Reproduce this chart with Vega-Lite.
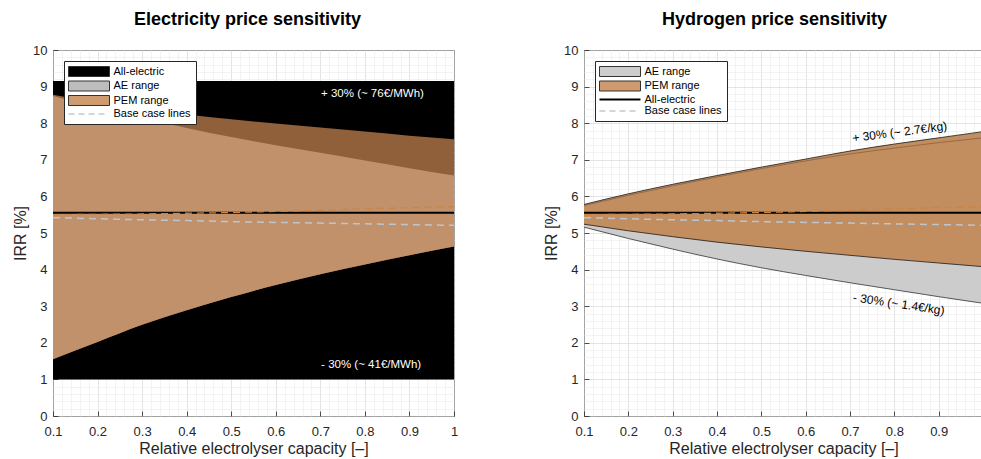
{
  "$schema": "https://vega.github.io/schema/vega-lite/v6.json",
  "padding": {"left": 11, "top": 10, "right": 0, "bottom": 3},
  "background": "#ffffff",
  "config": {
    "font": "Liberation Sans Narrow, Liberation Sans, Arial, sans-serif",
    "view": {"stroke": "#262626", "strokeWidth": 1},
    "axis": {
      "domain": false,
      "labelFont": "Liberation Sans Narrow, Liberation Sans, Arial, sans-serif",
      "labelFontSize": 13,
      "labelColor": "#262626",
      "labelFlush": false,
      "labelOverlap": false,
      "tickColor": "#262626",
      "tickSize": -5,
      "tickWidth": 0.8,
      "titleFont": "Liberation Sans Narrow, Liberation Sans, Arial, sans-serif",
      "titleFontSize": 16,
      "titleFontWeight": "normal",
      "titleColor": "#262626",
      "gridColor": "#d9d9d9",
      "gridWidth": 0.7
    },
    "axisBottom": {"labelPadding": 14, "titleY": 37, "titleBaseline": "alphabetic"},
    "axisLeft": {"labelPadding": 11, "titleX": -25, "titleBaseline": "bottom"},
    "title": {
      "font": "Liberation Sans Narrow, Liberation Sans, Arial, sans-serif",
      "fontSize": 18,
      "fontWeight": "bold",
      "color": "#000000",
      "anchor": "middle",
      "frame": "group",
      "offset": 15,
      "baseline": "alphabetic"
    },
    "legend": {
      "orient": "top-left",
      "offset": 11,
      "padding": 5,
      "fillColor": "#ffffff",
      "strokeColor": "#262626",
      "title": null,
      "symbolSize": 100,
      "symbolStrokeWidth": 1,
      "symbolOpacity": 1,
      "symbolOffset": 14.5,
      "labelOffset": 19,
      "rowPadding": -0.5,
      "labelFont": "Liberation Sans Narrow, Liberation Sans, Arial, sans-serif",
      "labelFontSize": 11,
      "labelColor": "#000000",
      "labelLimit": 0
    }
  },
  "datasets": {
    "electricity": [
      {"x": 0.1, "elec_lo": 1.0, "elec_hi": 9.15, "pem_lo": 1.55, "pem_hi": 8.78, "ae_lo": 1.55, "ae_hi": 8.74, "elec": 5.55, "ae_base": 5.42, "pem_base": 5.5},
      {"x": 0.2, "elec_lo": 1.0, "elec_hi": 9.15, "pem_lo": 2.02, "pem_hi": 8.57, "ae_lo": 2.02, "ae_hi": 8.43, "elec": 5.55, "ae_base": 5.39, "pem_base": 5.51},
      {"x": 0.3, "elec_lo": 1.0, "elec_hi": 9.15, "pem_lo": 2.49, "pem_hi": 8.39, "ae_lo": 2.49, "ae_hi": 8.14, "elec": 5.55, "ae_base": 5.36, "pem_base": 5.52},
      {"x": 0.4, "elec_lo": 1.0, "elec_hi": 9.15, "pem_lo": 2.89, "pem_hi": 8.24, "ae_lo": 2.89, "ae_hi": 7.87, "elec": 5.55, "ae_base": 5.34, "pem_base": 5.54},
      {"x": 0.5, "elec_lo": 1.0, "elec_hi": 9.15, "pem_lo": 3.25, "pem_hi": 8.11, "ae_lo": 3.25, "ae_hi": 7.62, "elec": 5.55, "ae_base": 5.31, "pem_base": 5.56},
      {"x": 0.6, "elec_lo": 1.0, "elec_hi": 9.15, "pem_lo": 3.58, "pem_hi": 7.99, "ae_lo": 3.58, "ae_hi": 7.4, "elec": 5.55, "ae_base": 5.29, "pem_base": 5.59},
      {"x": 0.7, "elec_lo": 1.0, "elec_hi": 9.15, "pem_lo": 3.87, "pem_hi": 7.88, "ae_lo": 3.87, "ae_hi": 7.19, "elec": 5.55, "ae_base": 5.27, "pem_base": 5.62},
      {"x": 0.8, "elec_lo": 1.0, "elec_hi": 9.15, "pem_lo": 4.14, "pem_hi": 7.77, "ae_lo": 4.14, "ae_hi": 6.98, "elec": 5.55, "ae_base": 5.25, "pem_base": 5.66},
      {"x": 0.9, "elec_lo": 1.0, "elec_hi": 9.15, "pem_lo": 4.39, "pem_hi": 7.66, "ae_lo": 4.39, "ae_hi": 6.77, "elec": 5.55, "ae_base": 5.23, "pem_base": 5.69},
      {"x": 1.0, "elec_lo": 1.0, "elec_hi": 9.15, "pem_lo": 4.63, "pem_hi": 7.56, "ae_lo": 4.63, "ae_hi": 6.57, "elec": 5.55, "ae_base": 5.21, "pem_base": 5.72}
    ],
    "hydrogen": [
      {"x": 0.1, "ae_lo": 5.16, "ae_hi": 5.75, "pem_lo": 5.24, "pem_hi": 5.78, "elec": 5.55, "ae_base": 5.42, "pem_base": 5.5},
      {"x": 0.2, "ae_lo": 4.85, "ae_hi": 6.03, "pem_lo": 5.06, "pem_hi": 6.07, "elec": 5.55, "ae_base": 5.39, "pem_base": 5.51},
      {"x": 0.3, "ae_lo": 4.56, "ae_hi": 6.29, "pem_lo": 4.9, "pem_hi": 6.33, "elec": 5.55, "ae_base": 5.36, "pem_base": 5.52},
      {"x": 0.4, "ae_lo": 4.29, "ae_hi": 6.53, "pem_lo": 4.75, "pem_hi": 6.57, "elec": 5.55, "ae_base": 5.34, "pem_base": 5.54},
      {"x": 0.5, "ae_lo": 4.05, "ae_hi": 6.76, "pem_lo": 4.62, "pem_hi": 6.8, "elec": 5.55, "ae_base": 5.31, "pem_base": 5.56},
      {"x": 0.6, "ae_lo": 3.84, "ae_hi": 6.97, "pem_lo": 4.5, "pem_hi": 7.02, "elec": 5.55, "ae_base": 5.29, "pem_base": 5.59},
      {"x": 0.7, "ae_lo": 3.64, "ae_hi": 7.16, "pem_lo": 4.39, "pem_hi": 7.24, "elec": 5.55, "ae_base": 5.27, "pem_base": 5.62},
      {"x": 0.8, "ae_lo": 3.45, "ae_hi": 7.32, "pem_lo": 4.28, "pem_hi": 7.43, "elec": 5.55, "ae_base": 5.25, "pem_base": 5.66},
      {"x": 0.9, "ae_lo": 3.26, "ae_hi": 7.47, "pem_lo": 4.18, "pem_hi": 7.6, "elec": 5.55, "ae_base": 5.23, "pem_base": 5.69},
      {"x": 1.0, "ae_lo": 3.08, "ae_hi": 7.6, "pem_lo": 4.08, "pem_hi": 7.77, "elec": 5.55, "ae_base": 5.21, "pem_base": 5.72}
    ],
    "legend_elec": [
      {"series": "All-electric"},
      {"series": "AE range"},
      {"series": "PEM range"},
      {"series": "Base case lines"}
    ],
    "legend_h2": [
      {"series": "AE range"},
      {"series": "PEM range"},
      {"series": "All-electric"},
      {"series": "Base case lines"}
    ],
    "notes_elec": [
      {"x": 0.817, "y": 8.79, "label": "+ 30% (~ 76€/MWh)"},
      {"x": 0.814, "y": 1.39, "label": "- 30% (~ 41€/MWh)"}
    ],
    "notes_h2": [
      {"x": 0.812, "y": 7.76, "label": "+ 30% (~ 2.7€/kg)", "side": "high"},
      {"x": 0.81, "y": 3.06, "label": "- 30% (~ 1.4€/kg)", "side": "low"}
    ]
  },
  "spacing": 83,
  "resolve": {"scale": {"fill": "independent"}, "legend": {"fill": "independent"}},
  "hconcat": [
    {
      "width": 401,
      "height": 366,
      "title": {"text": "Electricity price sensitivity", "dx": -6},
      "data": {"name": "electricity"},
      "layer": [
        {
          "mark": {"type": "area", "interpolate": "linear", "color": "#000000"},
          "encoding": {
            "x": {
              "field": "x", "type": "quantitative",
              "scale": {"domain": [0.1, 1], "nice": false, "zero": false},
              "axis": {"orient": "bottom", "values": [0.1, 0.2, 0.3, 0.4, 0.5, 0.6, 0.7, 0.8, 0.9, 1], "format": "~g", "grid": true, "title": "Relative electrolyser capacity [–]"}
            },
            "y": {
              "field": "elec_hi", "type": "quantitative",
              "scale": {"domain": [0, 10], "nice": false, "zero": false},
              "axis": {"orient": "left", "values": [0, 1, 2, 3, 4, 5, 6, 7, 8, 9, 10], "format": "d", "grid": true, "title": "IRR [%]"}
            },
            "y2": {"field": "elec_lo"}
          }
        },
        {
          "mark": {"type": "area", "interpolate": "monotone", "color": "#8f6039"},
          "encoding": {
            "x": {
              "field": "x", "type": "quantitative",
              "axis": {"orient": "top", "values": [0.12, 0.14, 0.16, 0.18, 0.22, 0.24, 0.26, 0.28, 0.32, 0.34, 0.36, 0.38, 0.42, 0.44, 0.46, 0.48, 0.52, 0.54, 0.56, 0.58, 0.62, 0.64, 0.66, 0.68, 0.72, 0.74, 0.76, 0.78, 0.82, 0.84, 0.86, 0.88, 0.92, 0.94, 0.96, 0.98], "grid": true, "gridColor": "#ebebeb", "gridWidth": 0.6, "ticks": false, "labels": false, "title": null}
            },
            "y": {
              "field": "pem_hi", "type": "quantitative",
              "axis": {"orient": "right", "values": [0.2, 0.4, 0.6, 0.8, 1.2, 1.4, 1.6, 1.8, 2.2, 2.4, 2.6, 2.8, 3.2, 3.4, 3.6, 3.8, 4.2, 4.4, 4.6, 4.8, 5.2, 5.4, 5.6, 5.8, 6.2, 6.4, 6.6, 6.8, 7.2, 7.4, 7.6, 7.8, 8.2, 8.4, 8.6, 8.8, 9.2, 9.4, 9.6, 9.8], "grid": true, "gridColor": "#ebebeb", "gridWidth": 0.6, "ticks": false, "labels": false, "title": null}
            },
            "y2": {"field": "pem_lo"}
          }
        },
        {
          "mark": {"type": "area", "interpolate": "monotone", "color": "#c0916a"},
          "encoding": {
            "x": {"field": "x", "type": "quantitative", "axis": null},
            "y": {"field": "ae_hi", "type": "quantitative", "axis": null},
            "y2": {"field": "ae_lo"}
          }
        },
        {
          "mark": {"type": "line", "color": "#bcc6d0", "strokeWidth": 1.5, "strokeDash": [7, 5], "interpolate": "monotone"},
          "encoding": {
            "x": {"field": "x", "type": "quantitative", "axis": null},
            "y": {"field": "ae_base", "type": "quantitative", "axis": null}
          }
        },
        {
          "mark": {"type": "line", "color": "#000000", "strokeWidth": 2},
          "encoding": {
            "x": {"field": "x", "type": "quantitative", "axis": null},
            "y": {"field": "elec", "type": "quantitative", "axis": null}
          }
        },
        {
          "mark": {"type": "line", "color": "#cc8444", "strokeWidth": 1.3, "strokeDash": [7, 5], "interpolate": "monotone"},
          "encoding": {
            "x": {"field": "x", "type": "quantitative", "axis": null},
            "y": {"field": "pem_base", "type": "quantitative", "axis": null}
          }
        },
        {
          "data": {"name": "notes_elec"},
          "mark": {"type": "text", "color": "#ffffff", "fontSize": 11.5, "align": "center", "baseline": "middle"},
          "encoding": {
            "x": {"field": "x", "type": "quantitative", "axis": null},
            "y": {"field": "y", "type": "quantitative", "axis": null},
            "text": {"field": "label"}
          }
        },
        {
          "data": {"name": "legend_elec"},
          "mark": {"type": "rect", "opacity": 0},
          "encoding": {
            "fill": {
              "field": "series", "type": "nominal",
              "scale": {"domain": ["All-electric", "AE range", "PEM range", "Base case lines"], "range": ["#000000", "#bdbdbd", "#cf9c70", "#c8c8c8"]},
              "legend": {
                "symbolType": {"expr": "datum.value === 'Base case lines' ? 'M-4.1,-0.15H-2.9V0.15H-4.1Z M-2.1,-0.15H-0.9V0.15H-2.1Z M-0.1,-0.15H1.1V0.15H-0.1Z M1.9,-0.15H3.1V0.15H1.9Z' : 'M-4.1,-1H4.1V1H-4.1Z'"},
                "symbolStrokeColor": {"expr": "datum.value === 'Base case lines' ? 'transparent' : '#333333'"}
              }
            }
          }
        }
      ]
    },
    {
      "width": 399,
      "height": 366,
      "title": {"text": "Hydrogen price sensitivity", "dx": -9},
      "data": {"name": "hydrogen"},
      "layer": [
        {
          "mark": {"type": "area", "interpolate": "monotone", "color": "#cccccc"},
          "encoding": {
            "x": {
              "field": "x", "type": "quantitative",
              "scale": {"domain": [0.1, 1], "nice": false, "zero": false},
              "axis": {"orient": "bottom", "values": [0.1, 0.2, 0.3, 0.4, 0.5, 0.6, 0.7, 0.8, 0.9], "format": "~g", "grid": true, "title": "Relative electrolyser capacity [–]"}
            },
            "y": {
              "field": "ae_hi", "type": "quantitative",
              "scale": {"domain": [0, 10], "nice": false, "zero": false},
              "axis": {"orient": "left", "values": [0, 1, 2, 3, 4, 5, 6, 7, 8, 9, 10], "format": "d", "grid": true, "title": "IRR [%]"}
            },
            "y2": {"field": "ae_lo"}
          }
        },
        {
          "mark": {"type": "area", "interpolate": "monotone", "color": "#c28d5f"},
          "encoding": {
            "x": {
              "field": "x", "type": "quantitative",
              "axis": {"orient": "top", "values": [0.12, 0.14, 0.16, 0.18, 0.22, 0.24, 0.26, 0.28, 0.32, 0.34, 0.36, 0.38, 0.42, 0.44, 0.46, 0.48, 0.52, 0.54, 0.56, 0.58, 0.62, 0.64, 0.66, 0.68, 0.72, 0.74, 0.76, 0.78, 0.82, 0.84, 0.86, 0.88, 0.92, 0.94, 0.96, 0.98], "grid": true, "gridColor": "#ebebeb", "gridWidth": 0.6, "ticks": false, "labels": false, "title": null}
            },
            "y": {
              "field": "pem_hi", "type": "quantitative",
              "axis": {"orient": "right", "values": [0.2, 0.4, 0.6, 0.8, 1.2, 1.4, 1.6, 1.8, 2.2, 2.4, 2.6, 2.8, 3.2, 3.4, 3.6, 3.8, 4.2, 4.4, 4.6, 4.8, 5.2, 5.4, 5.6, 5.8, 6.2, 6.4, 6.6, 6.8, 7.2, 7.4, 7.6, 7.8, 8.2, 8.4, 8.6, 8.8, 9.2, 9.4, 9.6, 9.8], "grid": true, "gridColor": "#ebebeb", "gridWidth": 0.6, "ticks": false, "labels": false, "title": null}
            },
            "y2": {"field": "pem_lo"}
          }
        },
        {
          "mark": {"type": "line", "color": "#8a6240", "strokeWidth": 0.8, "interpolate": "monotone"},
          "encoding": {
            "x": {"field": "x", "type": "quantitative", "axis": null},
            "y": {"field": "ae_hi", "type": "quantitative", "axis": null}
          }
        },
        {
          "mark": {"type": "line", "color": "#333333", "strokeWidth": 0.8, "interpolate": "monotone"},
          "encoding": {
            "x": {"field": "x", "type": "quantitative", "axis": null},
            "y": {"field": "ae_lo", "type": "quantitative", "axis": null}
          }
        },
        {
          "mark": {"type": "line", "color": "#1a1a1a", "strokeWidth": 0.8, "interpolate": "monotone"},
          "encoding": {
            "x": {"field": "x", "type": "quantitative", "axis": null},
            "y": {"field": "pem_hi", "type": "quantitative", "axis": null}
          }
        },
        {
          "mark": {"type": "line", "color": "#1a1a1a", "strokeWidth": 0.8, "interpolate": "monotone"},
          "encoding": {
            "x": {"field": "x", "type": "quantitative", "axis": null},
            "y": {"field": "pem_lo", "type": "quantitative", "axis": null}
          }
        },
        {
          "mark": {"type": "line", "color": "#bcc6d0", "strokeWidth": 1.5, "strokeDash": [7, 5], "interpolate": "monotone"},
          "encoding": {
            "x": {"field": "x", "type": "quantitative", "axis": null},
            "y": {"field": "ae_base", "type": "quantitative", "axis": null}
          }
        },
        {
          "mark": {"type": "line", "color": "#000000", "strokeWidth": 2},
          "encoding": {
            "x": {"field": "x", "type": "quantitative", "axis": null},
            "y": {"field": "elec", "type": "quantitative", "axis": null}
          }
        },
        {
          "mark": {"type": "line", "color": "#cc8444", "strokeWidth": 1.3, "strokeDash": [7, 5], "interpolate": "monotone"},
          "encoding": {
            "x": {"field": "x", "type": "quantitative", "axis": null},
            "y": {"field": "pem_base", "type": "quantitative", "axis": null}
          }
        },
        {
          "data": {"name": "notes_h2"},
          "transform": [{"filter": "datum.side === 'high'"}],
          "mark": {"type": "text", "color": "#000000", "fontSize": 12, "align": "center", "baseline": "middle", "angle": 352.5},
          "encoding": {
            "x": {"field": "x", "type": "quantitative", "axis": null},
            "y": {"field": "y", "type": "quantitative", "axis": null},
            "text": {"field": "label"}
          }
        },
        {
          "data": {"name": "notes_h2"},
          "transform": [{"filter": "datum.side === 'low'"}],
          "mark": {"type": "text", "color": "#000000", "fontSize": 12, "align": "center", "baseline": "middle", "angle": 8.4},
          "encoding": {
            "x": {"field": "x", "type": "quantitative", "axis": null},
            "y": {"field": "y", "type": "quantitative", "axis": null},
            "text": {"field": "label"}
          }
        },
        {
          "data": {"name": "legend_h2"},
          "mark": {"type": "rect", "opacity": 0},
          "encoding": {
            "fill": {
              "field": "series", "type": "nominal",
              "scale": {"domain": ["AE range", "PEM range", "All-electric", "Base case lines"], "range": ["#cdcdcd", "#d09a6c", "#000000", "#c8c8c8"]},
              "legend": {
                "symbolType": {"expr": "datum.value === 'Base case lines' ? 'M-4.1,-0.15H-2.9V0.15H-4.1Z M-2.1,-0.15H-0.9V0.15H-2.1Z M-0.1,-0.15H1.1V0.15H-0.1Z M1.9,-0.15H3.1V0.15H1.9Z' : datum.value === 'All-electric' ? 'M-4.1,-0.2H4.1V0.2H-4.1Z' : 'M-4.1,-1H4.1V1H-4.1Z'"},
                "symbolStrokeColor": {"expr": "datum.value === 'Base case lines' || datum.value === 'All-electric' ? 'transparent' : '#333333'"}
              }
            }
          }
        }
      ]
    }
  ]
}
